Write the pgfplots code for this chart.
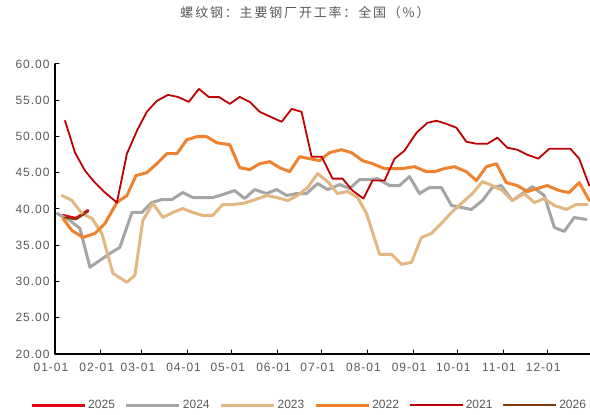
\documentclass[border=0pt]{standalone}
\usepackage{fontspec}
\setmainfont{Liberation Sans}
\newfontfamily\cjk{Noto Sans CJK SC}[LetterSpace=14]
\newfontfamily\tickfont{Liberation Sans}[LetterSpace=8]
\usepackage{pgfplots}
\pgfplotsset{compat=1.18}
\definecolor{cA}{HTML}{E60012}
\definecolor{cB}{HTML}{A5A5A5}
\definecolor{cC}{HTML}{E2B781}
\definecolor{cD}{HTML}{EE822F}
\definecolor{cE}{HTML}{C00000}
\definecolor{cF}{HTML}{843C0C}
\definecolor{txtgray}{HTML}{595959}
\begin{document}
\begin{tikzpicture}
\begin{axis}[at={(55pt,61pt)}, anchor=south west, scale only axis,
 width=535pt, height=290pt,
 xmin=0, xmax=363, ymin=20, ymax=60,
 axis x line*=bottom, axis y line*=left,
 axis line style={black, line width=1.2pt},
 tick align=inside, major tick length=4pt, tick style={black, line width=1pt},
 xtick={0,31,59,90,120,151,181,212,243,273,304,334},
 xticklabels={01-01,02-01,03-01,04-01,05-01,06-01,07-01,08-01,09-01,10-01,11-01,12-01},
 ytick={20,25,30,35,40,45,50,55,60},
 yticklabel style={/pgf/number format/fixed, /pgf/number format/fixed zerofill, /pgf/number format/precision=2, xshift=-2pt},
 /pgf/number format/assume math mode=true,
 ticklabel style={font=\tickfont\fontsize{12}{14}\selectfont, text=txtgray},
 xticklabel style={xshift=-4pt, yshift=-6pt},
 legend columns=6,
 legend style={draw=none, at={(0.475,-0.176)}, anchor=center, font=\fontsize{12}{14}\selectfont, text=txtgray,
   /tikz/every even column/.append style={column sep=8pt}},
 legend image code/.code={\draw[#1] (0pt,0pt) -- (53pt,0pt);},
 line join=round, line cap=round,
]
\addplot[cA, line width=3pt] coordinates {(5.4,39.11)(14.2,38.69)(22.4,39.79)};
\addlegendentry{2025}
\addplot[cB, line width=3pt] coordinates {
(1.4,39.38)(10.2,38.42)(16.9,37.32)(23.7,31.96)(30.5,32.92)(37.3,33.88)(44.0,34.71)(52.2,39.52)(58.9,39.52)(65.7,40.89)
(72.5,41.31)(79.3,41.31)(86.7,42.27)(93.5,41.58)(100.3,41.58)(107.0,41.58)(113.8,41.99)(121.9,42.54)(128.7,41.44)(135.5,42.68)
(143.6,42.13)(150.4,42.68)(157.2,41.86)(164.0,42.13)(170.7,42.13)(178.2,43.51)(185.0,42.68)(193.1,43.37)(199.9,42.82)(206.6,44.05)
(213.4,44.05)(218.8,44.19)(227.0,43.23)(233.7,43.23)(240.5,44.47)(247.3,42.13)(254.1,42.96)(262.2,42.96)(269.0,40.48)(275.7,40.21)
(282.5,39.93)(290.0,41.17)(296.7,42.96)(302.8,43.23)(310.3,41.17)(317.1,42.13)(323.8,43.09)(332.0,41.86)(338.8,37.46)(345.5,36.91)
(352.3,38.83)(360.4,38.56)};
\addlegendentry{2024}
\addplot[cC, line width=3pt] coordinates {
(4.7,41.86)(11.5,41.17)(18.3,39.38)(25.1,38.69)(31.8,36.63)(39.3,31.13)(48.8,29.90)(54.2,30.86)(59.6,38.42)(66.4,40.76)
(73.2,38.83)(79.9,39.52)(86.7,40.07)(93.5,39.52)(100.3,39.11)(107.0,39.11)(113.8,40.62)(120.6,40.62)(127.4,40.76)(134.1,41.17)
(143.6,41.86)(150.4,41.58)(157.9,41.17)(164.6,41.86)(171.4,42.96)(178.2,44.88)(185.0,43.78)(191.7,42.13)(198.5,42.41)(205.3,41.58)
(211.4,39.38)(220.2,33.75)(228.3,33.75)(235.1,32.37)(241.9,32.65)(248.6,36.08)(255.4,36.63)(262.2,38.01)(269.0,39.52)(275.7,40.76)
(283.2,42.13)(290.0,43.78)(296.7,43.23)(303.5,42.54)(310.3,41.17)(318.4,42.13)(325.2,40.89)(332.0,41.44)(338.8,40.48)(346.9,39.93)
(353.7,40.62)(361.1,40.62)};
\addlegendentry{2023}
\addplot[cD, line width=3pt] coordinates {
(5.4,38.69)(11.5,37.04)(19.0,36.08)(27.1,36.63)(33.9,38.01)(42.0,40.89)(48.8,41.86)(54.9,44.60)(62.3,45.02)(69.1,46.25)
(75.9,47.63)(82.7,47.63)(89.4,49.55)(96.2,49.97)(103.0,49.97)(109.8,49.14)(118.6,48.87)(125.3,45.70)(132.1,45.43)(138.9,46.25)
(145.7,46.53)(152.4,45.70)(159.2,45.15)(166.0,47.22)(172.8,46.94)(179.5,46.67)(186.3,47.77)(194.4,48.18)(201.2,47.77)(208.7,46.67)
(215.4,46.25)(223.6,45.57)(229.0,45.57)(235.8,45.57)(243.9,45.84)(252.0,45.15)(257.5,45.15)(264.2,45.57)(271.0,45.84)(279.1,45.15)
(285.9,43.92)(292.7,45.84)(299.5,46.25)(306.2,43.64)(313.7,43.23)(320.5,42.41)(327.2,42.82)(334.0,43.23)(342.1,42.54)(348.9,42.27)
(355.7,43.64)(362.5,41.17)};
\addlegendentry{2022}
\addplot[cE, line width=1.8pt] coordinates {
(6.8,52.17)(13.6,47.77)(20.3,45.29)(27.1,43.64)(33.9,42.27)(42.0,40.89)(48.8,47.63)(55.6,50.79)(62.3,53.40)(69.1,54.91)
(76.6,55.74)(83.3,55.46)(90.8,54.78)(97.6,56.56)(104.3,55.46)(111.1,55.46)(118.6,54.50)(125.3,55.46)(132.1,54.78)(138.9,53.40)
(146.3,52.71)(153.8,52.03)(160.6,53.81)(167.3,53.40)(174.1,47.22)(180.9,47.22)(188.3,44.19)(195.1,44.19)(201.9,42.54)(209.3,41.44)
(215.4,43.92)(223.6,43.92)(230.4,46.94)(237.1,48.04)(245.3,50.52)(252.7,51.89)(258.8,52.17)(265.6,51.75)(272.4,51.20)(279.1,49.28)
(285.9,49.00)(293.4,49.00)(300.1,49.83)(306.9,48.45)(313.7,48.18)(320.5,47.49)(327.9,46.94)(335.4,48.32)(342.1,48.32)(349.6,48.32)
(355.7,46.94)(362.5,43.23)};
\addlegendentry{2021}
\addplot[cF, line width=1.8pt] coordinates {(6.8,38.83)(14.2,38.56)(22.4,39.66)};
\addlegendentry{2026}
\end{axis}
\node[font=\cjk\fontsize{13}{15}\selectfont, text=txtgray] at (305pt,402pt) {螺纹钢：主要钢厂开工率：全国（\%）};
\pgfresetboundingbox
\path (0,0) rectangle (590pt,415pt);
\end{tikzpicture}
\end{document}
